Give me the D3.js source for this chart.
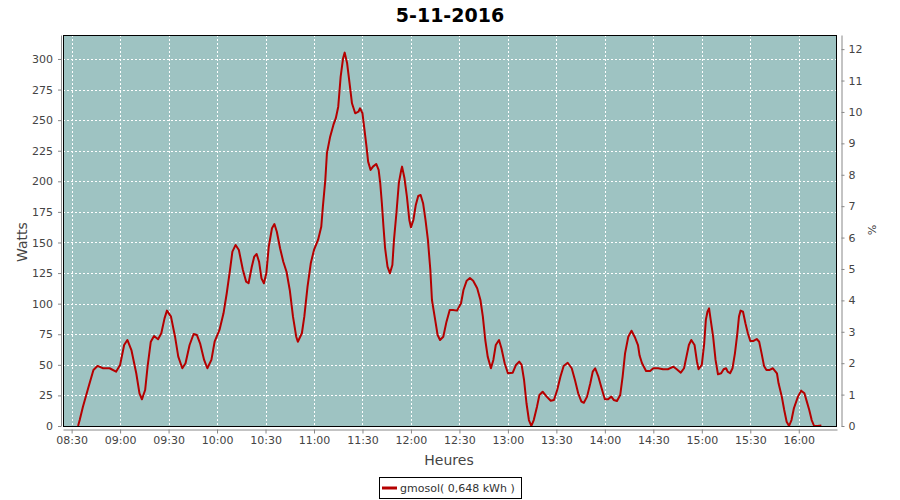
<!DOCTYPE html>
<html>
<head>
<meta charset="utf-8">
<script src="https://cdn.jsdelivr.net/npm/d3@7"></script>
<style>
  html, body { margin: 0; padding: 0; background: #ffffff; }
  svg { display: block; font-family: "DejaVu Sans", sans-serif; }
</style>
</head>
<body>
<svg id="chart" width="900" height="500"></svg>
<script>
// ---- data ----
const chartTitle = "5-11-2016";
const seriesName = "gmosol( 0,648 kWh )";
const xTitle = "Heures";
const yTitle = "Watts";
const y2Title = "%";

const times = [
"08:34","08:35","08:37","08:40:30","08:43:30","08:46","08:49:30","08:53:30","08:57:30","09:00",
"09:02:30","09:04:30","09:07","09:10","09:12","09:13:30","09:15:30","09:17","09:19","09:21",
"09:23:30","09:25:30","09:27:30","09:29","09:31:30","09:34","09:36","09:38:30","09:40:30","09:43",
"09:45:30","09:47:30","09:49:30","09:52","09:54","09:56:30","09:58:30","10:01:30","10:04","10:06",
"10:08","10:09:30","10:11:30","10:13:30","10:16","10:18","10:19:30","10:21:30","10:23","10:24:30",
"10:26","10:27:30","10:29","10:30:30","10:32","10:34","10:35:30","10:37","10:39","10:41",
"10:43","10:45","10:47","10:49","10:50","10:52:30","10:54","10:56","10:58","11:00",
"11:02:30","11:04:30","11:05:30","11:07","11:08","11:10","11:12","11:13:30","11:15","11:16:30",
"11:18","11:19","11:20:30","11:22","11:23:30","11:25:30","11:27:30","11:28:30","11:30","11:31",
"11:32:30","11:33:30","11:35","11:36:30","11:38:30","11:40","11:41","11:42","11:43","11:44",
"11:45:30","11:47","11:48:30","11:49:30","11:51","11:52:30","11:54","11:54:30","11:56","11:57:30",
"11:59","12:00","12:01:30","12:03","12:04:30","12:06","12:07:30","12:09","12:10:30","12:12",
"12:13","12:15","12:16:30","12:18","12:20","12:22","12:24","12:26","12:28:30","12:31",
"12:32:30","12:34:30","12:36:30","12:38:30","12:41","12:43","12:44:30","12:46","12:47:30","12:49:30",
"12:51","12:52:30","12:54:30","12:56","12:58","13:00","13:03","13:05","13:07","13:08:30",
"13:10","13:11:30","13:13","13:14:30","13:16","13:18","13:19:30","13:21:30","13:24","13:26:30",
"13:28:30","13:30:30","13:32:30","13:34:30","13:37","13:39:30","13:41:30","13:43:30","13:45:30","13:47",
"13:49","13:51","13:52:30","13:54","13:56","13:58","14:00","14:02","14:04","14:05:30",
"14:07:30","14:09:30","14:11","14:12:30","14:14:30","14:16:30","14:18:30","14:20:30","14:21:30","14:23",
"14:25:30","14:28","14:30","14:33","14:36","14:39","14:42:30","14:44:30","14:47","14:49",
"14:50:30","14:52","14:53:30","14:55:30","14:57","14:58","15:00","15:01:30","15:02:30","15:03:30",
"15:04:30","15:05:30","15:07","15:08:30","15:10","15:12","15:13:30","15:15","15:16","15:17:30",
"15:19","15:20:30","15:22","15:23","15:24","15:25:30","15:27","15:28:30","15:30","15:32",
"15:34","15:35:30","15:37","15:38:30","15:40","15:42","15:44","15:46:30","15:47:30","15:49:30",
"15:51","15:52:30","15:54","15:55:30","15:57","15:59:30","16:01:30","16:03:30","16:05","16:06:30",
"16:08","16:09:30","16:11:30","16:14"
];

const watts = [
0, 4.9, 15.8, 32.1, 45.8, 49.1, 47.2, 47.2, 44.4, 49.9,
66.2, 70.3, 62.1, 43.1, 26.7, 21.8, 29.4, 48.5, 68.9, 73.6,
70.9, 75.8, 88.0, 94.3, 89.4, 73.0, 56.7, 47.2, 51.3, 66.2,
75.2, 74.4, 67.6, 54.0, 47.2, 54.0, 68.9, 78.5, 92.1, 108.5,
127.5, 142.5, 148.0, 143.9, 127.5, 118.0, 116.7, 130.2, 138.4, 140.6,
134.3, 120.7, 116.7, 124.8, 146.6, 161.6, 165.1, 158.8, 145.3, 134.3,
126.1, 111.2, 89.4, 73.0, 68.9, 75.8, 89.4, 113.9, 133.0, 143.9,
152.1, 162.9, 179.3, 201.1, 222.9, 236.5, 246.1, 251.6, 261.0, 285.6,
300.6, 305.2, 296.5, 280.2, 263.8, 255.6, 256.9, 259.7, 255.6, 244.7,
228.3, 216.1, 209.3, 212.0, 214.2, 209.3, 198.4, 182.1, 162.9, 145.3,
130.2, 124.8, 131.6, 152.1, 173.9, 198.4, 209.3, 212.0, 202.5, 187.5,
168.4, 162.4, 168.4, 180.7, 188.0, 188.8, 182.1, 168.4, 152.1, 127.5,
103.0, 86.7, 74.4, 70.3, 73.0, 85.3, 94.8, 94.8, 94.3, 100.3,
111.2, 118.8, 121.0, 118.8, 112.6, 103.0, 89.4, 70.3, 56.7, 47.2,
54.0, 66.2, 70.3, 63.5, 51.3, 43.1, 43.6, 49.9, 52.6, 49.9,
37.6, 18.6, 4.9, 0, 4.9, 15.8, 25.3, 28.0, 24.0, 20.7,
21.3, 29.4, 40.3, 49.1, 51.7, 47.2, 37.6, 26.7, 19.9, 19.0,
24.0, 34.9, 44.4, 47.2, 40.3, 30.8, 21.8, 21.8, 24.0, 21.3,
20.4, 25.3, 40.3, 59.4, 73.0, 77.9, 72.8, 66.2, 57.6, 51.3,
45.0, 45.0, 47.2, 47.2, 46.4, 46.4, 48.5, 46.4, 43.6, 47.2,
56.7, 66.2, 70.3, 66.2, 52.6, 46.4, 49.9, 67.6, 86.7, 93.4,
96.2, 86.7, 73.0, 54.0, 42.3, 43.1, 46.4, 47.2, 44.4, 43.1,
47.2, 59.4, 75.8, 89.4, 94.3, 93.4, 84.0, 75.8, 69.5, 69.5,
71.1, 68.9, 59.4, 49.1, 45.8, 45.8, 47.2, 43.1, 34.9, 24.0,
13.1, 3.5, 0, 4.9, 14.5, 24.0, 28.9, 26.7, 19.9, 13.1,
4.9, 0, 0, 0.4
];

const xDomain = ["08:24:40", "16:23:40"];
const xTickLabels = ["08:30","09:00","09:30","10:00","10:30","11:00","11:30","12:00",
                     "12:30","13:00","13:30","14:00","14:30","15:00","15:30","16:00"];
const yTicks = [0,25,50,75,100,125,150,175,200,225,250,275,300];
const yMax = 319.6;
const y2Ticks = [0,1,2,3,4,5,6,7,8,9,10,11,12];
const y2Max = 12.45;

// ---- helpers ----
function toDate(s) {
  const p = s.split(":").map(Number);
  return new Date(2016, 10, 5, p[0], p[1], p[2] || 0);
}

const data = times.map((t, i) => ({ t: toDate(t), v: watts[i] }));

// ---- layout ----
const L = 63, R = 837, T = 35, B = 426;
const svg = d3.select("#chart");

const x = d3.scaleTime().domain(xDomain.map(toDate)).range([L, R]);
const y = d3.scaleLinear().domain([0, yMax]).range([B, T]);
const y2 = d3.scaleLinear().domain([0, y2Max]).range([B, T]);

// plot background
svg.append("rect").attr("x", L).attr("y", T).attr("width", R - L).attr("height", B - T)
  .attr("fill", "#9ec3c2");

// gridlines
const grid = svg.append("g").attr("stroke", "#ffffff").attr("stroke-width", 1)
  .attr("stroke-dasharray", "2,2").attr("shape-rendering", "crispEdges");
xTickLabels.forEach(s => {
  const xx = Math.round(x(toDate(s))) + 0.5;
  grid.append("line").attr("x1", xx).attr("x2", xx).attr("y1", T).attr("y2", B);
});
yTicks.filter(v => v > 0).forEach(v => {
  const yy = Math.round(y(v)) + 0.5;
  grid.append("line").attr("x1", L).attr("x2", R).attr("y1", yy).attr("y2", yy);
});

// series line
const line = d3.line().x(d => x(d.t)).y(d => y(d.v));
svg.append("path").datum(data).attr("d", line)
  .attr("fill", "none").attr("stroke", "#b50000").attr("stroke-width", 2)
  .attr("stroke-linejoin", "round");

// plot border
svg.append("rect").attr("x", L + 0.5).attr("y", T + 0.5).attr("width", R - L - 1).attr("height", B - T)
  .attr("fill", "none").attr("stroke", "#000000").attr("stroke-width", 1);

// axes
function styleAxis(g) {
  g.select(".domain").attr("stroke", "#888888");
  g.selectAll(".tick line").attr("stroke", "#888888");
  g.selectAll(".tick text").attr("fill", "#444444").style("font-size", "11px")
    .style("font-family", "'DejaVu Sans', sans-serif");
}

const yAxis = d3.axisLeft(y).tickValues(yTicks).tickSize(3).tickSizeOuter(0).tickPadding(5);
svg.append("g").attr("transform", "translate(61,0)").call(yAxis).call(styleAxis);

const y2Axis = d3.axisRight(y2).tickValues(y2Ticks).tickSize(3).tickSizeOuter(0).tickPadding(4);
svg.append("g").attr("transform", "translate(841.5,0)").call(y2Axis).call(styleAxis);

const xAxis = d3.axisBottom(x).tickValues(xTickLabels.map(toDate))
  .tickFormat((d, i) => xTickLabels[i]).tickSize(4).tickSizeOuter(0).tickPadding(3);
svg.append("g").attr("transform", "translate(0,429.5)").call(xAxis).call(styleAxis);

// titles
svg.append("text").attr("x", 450).attr("y", 22).attr("text-anchor", "middle")
  .style("font-size", "19px").style("font-weight", "bold").attr("fill", "#000000")
  .text(chartTitle);

svg.append("text").attr("transform", "translate(27,242) rotate(-90)")
  .attr("text-anchor", "middle").style("font-size", "14px").attr("fill", "#444444")
  .text(yTitle);

svg.append("text").attr("transform", "translate(868,230) rotate(90)")
  .attr("text-anchor", "middle").style("font-size", "11px").attr("fill", "#444444")
  .text(y2Title);

svg.append("text").attr("x", 449).attr("y", 465).attr("text-anchor", "middle")
  .style("font-size", "14px").attr("fill", "#444444").text(xTitle);

// legend
const lg = svg.append("g");
lg.append("rect").attr("x", 379.5).attr("y", 477.5).attr("width", 142).attr("height", 21)
  .attr("fill", "#ffffff").attr("stroke", "#000000").attr("stroke-width", 1);
lg.append("line").attr("x1", 382).attr("x2", 397).attr("y1", 488).attr("y2", 488)
  .attr("stroke", "#b50000").attr("stroke-width", 3);
lg.append("text").attr("x", 400).attr("y", 492).style("font-size", "11px")
  .attr("fill", "#333333").text(seriesName);
</script>
</body>
</html>
